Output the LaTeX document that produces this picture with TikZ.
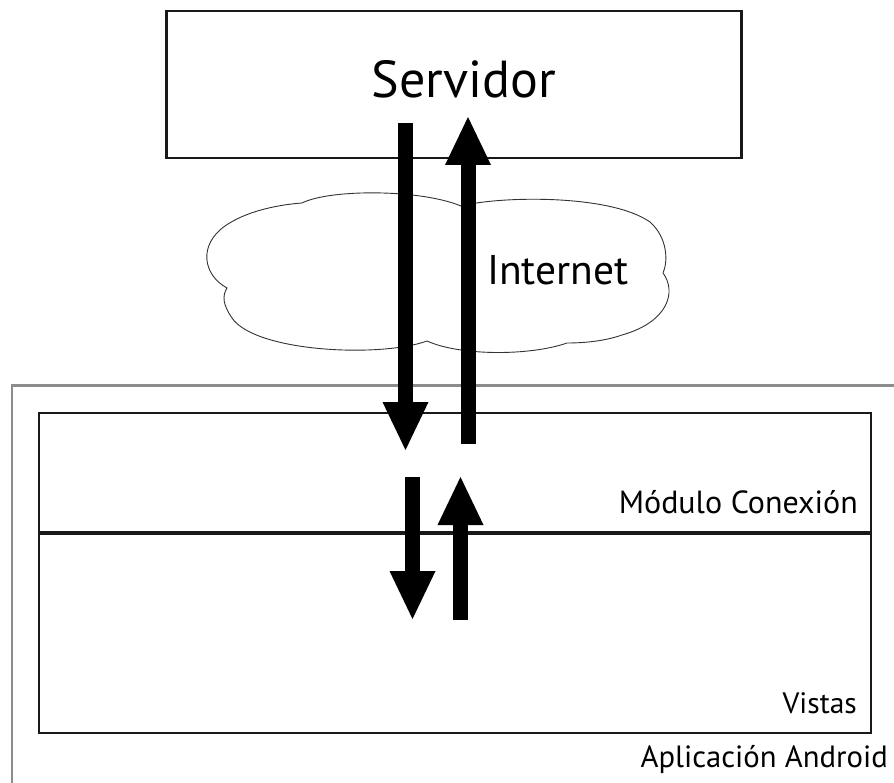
\documentclass[tikz,border=0pt]{standalone}
\usepackage{fontspec}
\setmainfont{PT Sans}
\usetikzlibrary{arrows.meta,positioning,calc}
\colorlet{framegray}{black!45}
\tikzset{box/.style={draw=black!90,line width=2pt,inner sep=0pt},
  flow/.style={line width=15pt,-{Triangle[width=46pt,length=48pt,line width=0pt]}},
  lbl/.style={inner sep=0pt,anchor=base east}}

\begin{document}
\begin{tikzpicture}[x=1pt, y=-1pt]
  \useasboundingbox (0,0) rectangle (894,783);

  % outer frame, runs off the page
  \node[box, draw=framegray, line width=2.5pt, anchor=north west,
    minimum width=900pt, minimum height=420pt] (app) at (10.7,384.3) {};

  \node[box, line width=2.5pt, minimum width=575pt, minimum height=147pt] (srv) at (454,84.5) {};
  \node[box, minimum width=832pt, minimum height=119pt] (con) at (454.5,472.2) {};
  \node[box, minimum width=832pt, minimum height=199pt, below=0pt of con] (vis) {};

  % cloud
  \draw[black!80, line width=0.9pt, fill=white]
    (227,288) .. controls (203,275) and (198,245) .. (225,226)
    .. controls (245,212) and (275,205) .. (302,203)
    .. controls (330,189) and (420,189) .. (461,206)
    .. controls (500,196) and (610,194) .. (650,222)
    .. controls (668,238) and (668,262) .. (663,273)
    .. controls (677,292) and (668,322) .. (622,335)
    .. controls (605,341) and (585,343) .. (567,343)
    .. controls (530,356) and (460,356) .. (427,341)
    .. controls (380,358) and (255,352) .. (232,318)
    .. controls (223,305) and (222,296) .. (227,288) -- cycle;

  \node[inner sep=0pt, anchor=base] (srvlbl) at (464,98) {\fontsize{52}{60}\selectfont Servidor};
  \node[inner sep=0pt, anchor=base west] (net) at (487,285) {\fontsize{41.5}{50}\selectfont Internet};
  \node[lbl] (conlbl) at (858,513) {\fontsize{32}{38}\selectfont Módulo Conexión};
  \node[lbl] (vislbl) at (857,713) {\fontsize{29.5}{34}\selectfont Vistas};
  \node[lbl] (applbl) at (888,767) {\fontsize{30.7}{36}\selectfont Aplicación Android};

  \coordinate (d1a) at (405.5,123);
  \coordinate (d1b) at (405.5,450);
  \coordinate (u1a) at (468,444);
  \coordinate (u1b) at (468,117);
  \coordinate (d2a) at (412.5,477);
  \coordinate (d2b) at (412.5,619);
  \coordinate (u2a) at (460.5,620);
  \coordinate (u2b) at (460.5,477);

  \draw[flow] (d1a) -- (d1b);
  \draw[flow] (u1a) -- (u1b);
  \draw[flow] (d2a) -- (d2b);
  \draw[flow] (u2a) -- (u2b);
\end{tikzpicture}
\end{document}
